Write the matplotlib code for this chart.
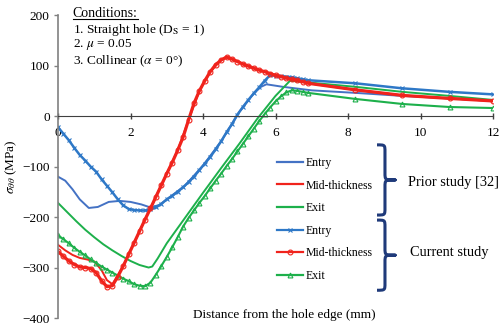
import matplotlib
matplotlib.use('Agg')
import matplotlib.pyplot as plt
from matplotlib.path import Path
from matplotlib.patches import PathPatch
from matplotlib.lines import Line2D

plt.rcParams['font.family'] = ['Liberation Serif', 'DejaVu Serif']
plt.rcParams['mathtext.fontset'] = 'stix'

# current study (FE nodes)
x_cur = [0.0, 0.15, 0.3, 0.45, 0.6, 0.75, 0.9, 1.05, 1.2, 1.35, 1.5, 1.65, 1.8, 1.95,
         2.1, 2.25, 2.4, 2.55, 2.7, 2.85, 3.0, 3.15, 3.3, 3.45, 3.6, 3.75, 3.9, 4.05,
         4.2, 4.35, 4.5, 4.65, 4.8, 4.95, 5.1, 5.25, 5.4, 5.55, 5.7, 5.85, 6.0, 6.15,
         6.3, 6.45, 6.6, 6.75, 6.9, 8.2, 9.5, 10.8, 12.0]
cur_entry = [-22, -35, -48, -63, -77, -88, -100, -110, -125, -138, -151, -165, -177, -184,
             -186, -187, -187, -185, -181, -174, -165, -158, -150, -141, -131, -120, -107, -94,
             -81, -66, -50, -32, -16, 3, 18, 32, 45, 57, 70, 81, 80, 79,
             78, 77, 75, 73, 71, 65, 55, 48, 43]
cur_mid = [-268, -278, -287, -294, -299, -300, -302, -310, -326, -338, -336, -318, -297, -274,
           -251, -228, -205, -183, -160, -137, -114, -92, -68, -42, -8, 25, 50, 70,
           88, 102, 111, 117, 113, 108, 103, 99, 95, 91, 88, 84, 81, 78,
           75, 73, 71, 68, 65, 52, 41, 35, 30]
cur_exit = [-236, -244, -252, -261, -269, -276, -284, -291, -298, -304, -310, -316, -322, -327,
            -333, -336, -337, -330, -314, -297, -279, -260, -240, -219, -202, -187, -172, -158,
            -143, -128, -114, -99, -85, -70, -55, -40, -25, -10, 4, 17, 29, 39,
            47, 51, 50, 48, 46, 34, 24, 18, 16]

# prior study [32]
x_pe = [0, 0.2, 0.4, 0.6, 0.85, 1.1, 1.4, 1.7, 2.0, 2.3, 2.55, 2.8, 3.0, 3.5, 4.0, 4.5,
        5.0, 5.4, 5.6, 5.75, 6.2, 7.0, 8.2, 9.5, 10.8, 12]
prior_entry = [-120, -128, -145, -165, -182, -180, -170, -168, -170, -175, -181, -176, -165,
               -138, -98, -50, 8, 45, 58, 63, 58, 51, 46, 40, 35, 30]
x_pm = [0, 0.2, 0.4, 0.6, 0.8, 1.0, 1.2, 1.35, 1.5, 1.8, 2.1, 2.4, 2.7, 3.0, 3.3, 3.6,
        3.9, 4.2, 4.5, 4.65, 5.0, 5.5, 6.0, 6.5, 7.0, 8.2, 9.5, 10.8, 12]
prior_mid = [-255, -266, -275, -281, -284, -288, -305, -325, -333, -297, -251, -205, -160,
             -114, -68, -8, 50, 88, 111, 117, 107, 92, 81, 72, 64, 52, 41, 35, 30]
x_px = [0, 0.25, 0.5, 0.75, 1.0, 1.25, 1.5, 1.75, 2.0, 2.25, 2.5, 2.6, 2.75, 3.0, 3.5, 4.0,
        4.5, 5.0, 5.5, 6.0, 6.4, 7.0, 8.2, 9.5, 10.8, 12]
prior_exit = [-172, -190, -208, -225, -240, -254, -266, -277, -287, -295, -300, -298, -282,
              -252, -202, -152, -103, -55, -5, 40, 70, 66, 58, 48, 40, 32]

labels = ['Entry', 'Mid-thickness', 'Exit', 'Entry', 'Mid-thickness', 'Exit']

blue1 = '#4472C4'
blue2 = '#2E78C7'
red = '#F0231C'
green = '#1DB04B'

fig = plt.figure(figsize=(5, 3.29), dpi=100)
ax = fig.add_axes([0.116, 0.0334, 0.87, 0.9206])

l1, = ax.plot(x_pe, prior_entry, color=blue1, lw=1.4)
l3, = ax.plot(x_px, prior_exit, color=green, lw=1.4)
l2, = ax.plot(x_pm, prior_mid, color=red, lw=1.4)
l6, = ax.plot(x_cur, cur_exit, color=green, lw=1.5, marker='^', ms=3.5, mfc='none', mew=0.8)
l4, = ax.plot(x_cur, cur_entry, color=blue2, lw=1.8, marker='x', ms=3.5, mew=0.8)
l5, = ax.plot(x_cur, cur_mid, color=red, lw=2.3, marker='o', ms=3.5, mfc='none', mew=0.8)

ax.set_xlim(0, 12)
ax.set_ylim(-400, 200)
ax.spines['top'].set_visible(False)
ax.spines['right'].set_visible(False)
ax.spines['bottom'].set_position(('data', 0))
ax.spines['bottom'].set_color('#404040')
ax.spines['left'].set_color('#808080')
ax.spines['left'].set_linewidth(1.2)
ax.set_xticks(range(0, 13, 2))
ax.set_yticks(range(-400, 201, 100))
ax.tick_params(axis='y', direction='out', length=3, width=1, color='#808080', labelsize=9.5, pad=3)
ax.tick_params(axis='x', direction='inout', length=4, width=1, color='#404040', labelsize=9.5, pad=6)

ax.set_ylabel(r'$\sigma_{\theta\theta}$ (MPa)', fontsize=9.5, labelpad=2)
ax.text(6.23, -394, 'Distance from the hole edge (mm)', fontsize=9.5, ha='center', va='center')

# conditions
t = ax.text(0.41, 203, 'Conditions:', fontsize=10, ha='left', va='center')
ax.text(0.41, 171, r'1. Straight hole (D$_\mathrm{S}$ = 1)', fontsize=9.6, ha='left', va='center')
ax.text(0.41, 141, r'2. $\mu$ = 0.05', fontsize=9.6, ha='left', va='center')
ax.text(0.41, 109, r'3. Collinear ($\alpha$ = 0°)', fontsize=9.6, ha='left', va='center')

leg = ax.legend([l1, l2, l3, l4, l5, l6], labels, loc='upper left', frameon=False,
                bbox_to_anchor=(277 / 500, 1 - 157 / 329), bbox_transform=fig.transFigure,
                fontsize=8.5, numpoints=1, handlelength=2.2, handletextpad=0.2,
                labelspacing=0.9, borderpad=0, borderaxespad=0)
for h in leg.legend_handles:
    h.set_linewidth(1.6)


def brace(y0, y1, xl=8.8, xm=9.02, xt=9.3, r=14):
    ym = (y0 + y1) / 2
    verts = [(xl, y0), (xm, y0), (xm, y0), (xm, y0 - r),
             (xm, ym + r),
             (xm, ym), (xm, ym), (xt, ym),
             (xm, ym), (xm, ym), (xm, ym - r),
             (xm, y1 + r),
             (xm, y1), (xm, y1), (xl, y1)]
    codes = [Path.MOVETO, Path.CURVE4, Path.CURVE4, Path.CURVE4,
             Path.LINETO,
             Path.CURVE4, Path.CURVE4, Path.CURVE4,
             Path.CURVE4, Path.CURVE4, Path.CURVE4,
             Path.LINETO,
             Path.CURVE4, Path.CURVE4, Path.CURVE4]
    ax.add_patch(PathPatch(Path(verts, codes), fill=False, ec='#1F3A7A', lw=2.2,
                           capstyle='butt', joinstyle='round', clip_on=False))


brace(-57, -196)
brace(-206, -345)
ax.text(9.66, -131, 'Prior study [32]', fontsize=10.4, ha='left', va='center')
ax.text(9.71, -271, 'Current study', fontsize=10.4, ha='left', va='center')

fig.canvas.draw()
bb = t.get_window_extent().transformed(fig.transFigure.inverted())
fig.add_artist(Line2D([bb.x0, bb.x1], [bb.y0 + 0.004, bb.y0 + 0.004], color='black', lw=0.8,
                      transform=fig.transFigure))

fig.savefig('out.png', dpi=100)
